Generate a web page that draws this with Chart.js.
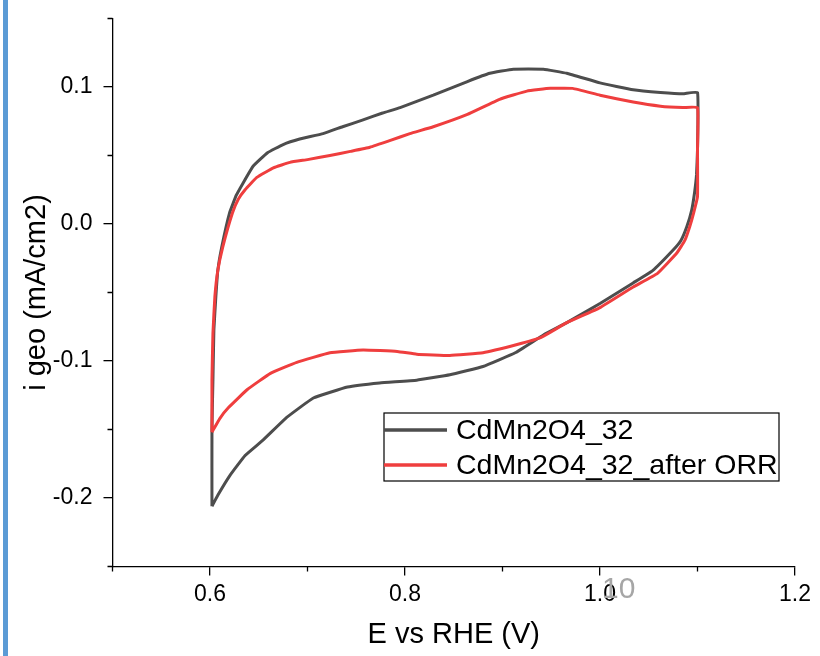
<!DOCTYPE html>
<html>
<head>
<meta charset="utf-8">
<script src="https://cdn.jsdelivr.net/npm/chart.js@4.4.1/dist/chart.umd.min.js"></script>
<style>
  html, body { margin: 0; padding: 0; background: #fff; }
  #wrap { position: relative; width: 820px; height: 656px; overflow: hidden; }
  #bar { position: absolute; left: 3px; top: 0; width: 5px; height: 656px; background: #5b9bd5; }
  canvas { position: absolute; left: 0; top: 0; }
  #pageNo { position: absolute; left: 602px; top: 573px; font: 30px/30px "Liberation Sans", Arial, sans-serif; color: #a6a6a6; }
</style>
</head>
<body>
<div id="wrap">
  <div id="bar"></div>
  <canvas id="cv" width="820" height="656"></canvas>
  <div id="pageNo">10</div>
</div>
<script>
// series labels
const seriesLabels = ['CdMn2O4_32', 'CdMn2O4_32_after ORR'];

// CdMn2O4_32 loop (E in V, i in mA/cm2)
const blackE = [0.602,0.602,0.603,0.604,0.606,0.608,0.612,0.620,0.627,0.634,0.644,0.659,0.675,0.692,0.716,0.736,0.757,0.777,0.795,0.829,0.864,0.887,0.911,0.942,0.966,1.000,1.034,1.062,1.085,1.100,1.100,1.099,1.097,1.094,1.089,1.083,1.075,1.054,1.034,1.000,0.966,0.942,0.913,0.880,0.846,0.812,0.774,0.741,0.706,0.679,0.654,0.636,0.620,0.608,0.602];
const blackI = [-0.206,-0.150,-0.114,-0.077,-0.053,-0.034,-0.017,0.008,0.021,0.030,0.042,0.052,0.058,0.062,0.066,0.071,0.076,0.081,0.085,0.094,0.104,0.110,0.113,0.113,0.110,0.103,0.098,0.096,0.095,0.096,0.054,0.036,0.023,0.010,-0.002,-0.012,-0.019,-0.034,-0.043,-0.058,-0.072,-0.081,-0.094,-0.104,-0.110,-0.114,-0.116,-0.119,-0.127,-0.141,-0.158,-0.169,-0.184,-0.198,-0.206];

// CdMn2O4_32 after ORR loop
const redE = [0.602,0.602,0.603,0.605,0.608,0.613,0.623,0.629,0.636,0.648,0.665,0.682,0.700,0.723,0.744,0.764,0.785,0.805,0.829,0.864,0.897,0.925,0.949,0.972,1.000,1.034,1.062,1.085,1.100,1.100,1.100,1.096,1.092,1.087,1.079,1.059,1.034,1.000,0.966,0.939,0.915,0.880,0.846,0.812,0.792,0.757,0.723,0.689,0.662,0.638,0.619,0.610,0.602];
const redI = [-0.152,-0.114,-0.080,-0.053,-0.034,-0.017,0.008,0.018,0.025,0.034,0.041,0.045,0.047,0.050,0.053,0.056,0.061,0.066,0.071,0.080,0.091,0.097,0.099,0.099,0.094,0.089,0.086,0.085,0.085,0.054,0.020,0.008,-0.002,-0.012,-0.021,-0.036,-0.046,-0.061,-0.072,-0.083,-0.088,-0.094,-0.096,-0.095,-0.093,-0.092,-0.094,-0.101,-0.109,-0.121,-0.134,-0.142,-0.152];

// axes
const xTicks = [0.6, 0.8, 1.0, 1.2];
const xMinor = [0.5, 0.7, 0.9, 1.1];
const yTicks = [-0.2, -0.1, 0.0, 0.1];
const yMinor = [-0.25, -0.15, -0.05, 0.05, 0.15];

const FONT = '"Liberation Sans", Arial, sans-serif';
Chart.defaults.font.family = FONT;
Chart.defaults.color = '#000';

const toPts = (xs, ys) => xs.map((x, i) => ({ x, y: ys[i] }));

// short minor ticks, drawn through the scales
const minorTicks = {
    id: 'minorTicks',
    afterDraw(chart) {
        const { ctx, scales: { x, y } } = chart;
        ctx.save();
        ctx.strokeStyle = '#000';
        ctx.lineWidth = 1.3;
        ctx.beginPath();
        xMinor.forEach(v => {
            const px = x.getPixelForValue(v);
            ctx.moveTo(px, x.top);
            ctx.lineTo(px, x.top + 5);
        });
        yMinor.forEach(v => {
            const py = y.getPixelForValue(v);
            ctx.moveTo(y.right, py);
            ctx.lineTo(y.right - 5, py);
        });
        ctx.stroke();
        ctx.restore();
    }
};

// boxed legend inside the plot
const boxLegend = {
    id: 'boxLegend',
    afterDraw(chart) {
        const { ctx, chartArea: a } = chart;
        const left = a.left + 271.5, top = a.top + 394.5, w = 395, h = 68;
        ctx.save();
        ctx.fillStyle = '#fff';
        ctx.fillRect(left, top, w, h);
        ctx.strokeStyle = '#000';
        ctx.lineWidth = 1.2;
        ctx.strokeRect(left, top, w, h);
        ctx.font = '28.5px ' + FONT;
        ctx.textBaseline = 'middle';
        chart.data.datasets.forEach((ds, i) => {
            const yy = top + 17 + i * 35;
            ctx.strokeStyle = ds.borderColor;
            ctx.lineWidth = 3.5;
            ctx.beginPath();
            ctx.moveTo(left, yy);
            ctx.lineTo(left + 63, yy);
            ctx.stroke();
            ctx.fillStyle = '#000';
            ctx.fillText(ds.label, left + 72, yy + 1);
        });
        ctx.restore();
    }
};

const gridOpts = {
    display: true,
    drawOnChartArea: false,
    drawTicks: true,
    tickLength: 9,
    tickColor: '#000',
    tickWidth: 1.3,
    lineWidth: 1.3
};

new Chart(document.getElementById('cv'), {
    type: 'scatter',
    data: {
        datasets: [{
            label: seriesLabels[0],
            data: toPts(blackE, blackI),
            borderColor: '#4d4d4d',
            order: 1
        }, {
            label: seriesLabels[1],
            data: toPts(redE, redI),
            borderColor: '#ef3e3e',
            order: 0
        }]
    },
    options: {
        responsive: false,
        animation: false,
        devicePixelRatio: 1,
        showLine: true,
        elements: {
            point: { radius: 0, hoverRadius: 0 },
            line: { borderWidth: 3, tension: 0.1, fill: false, borderJoinStyle: 'round' }
        },
        layout: { autoPadding: false, padding: { left: 0, right: 25, top: 18.5, bottom: 0 } },
        plugins: {
            legend: { display: false },
            tooltip: { enabled: false }
        },
        scales: {
            x: {
                type: 'linear',
                min: 0.5,
                max: 1.2,
                afterBuildTicks: s => { s.ticks = xTicks.map(v => ({ value: v })); },
                afterFit: s => { s.height = 89.5; s.paddingLeft = 0; s.paddingRight = 0; },
                grid: gridOpts,
                border: { display: true, color: '#000', width: 1.3 },
                ticks: {
                    callback: v => Number(v).toFixed(1),
                    font: { size: 23 },
                    color: '#000',
                    padding: 5,
                    maxRotation: 0,
                    autoSkip: false
                },
                title: {
                    display: true,
                    text: 'E vs RHE (V)',
                    font: { size: 29 },
                    color: '#000',
                    padding: { top: 0, bottom: 4 }
                }
            },
            y: {
                type: 'linear',
                min: -0.25,
                max: 0.15,
                afterBuildTicks: s => { s.ticks = yTicks.map(v => ({ value: v })); },
                afterFit: s => { s.width = 112.5; s.paddingTop = 0; s.paddingBottom = 0; },
                grid: gridOpts,
                border: { display: true, color: '#000', width: 1.3 },
                ticks: {
                    callback: v => Number(v).toFixed(1),
                    font: { size: 23 },
                    color: '#000',
                    padding: 11,
                    autoSkip: false
                },
                title: {
                    display: true,
                    text: 'i geo (mA/cm2)',
                    font: { size: 29 },
                    color: '#000',
                    padding: { top: 20, bottom: 0 }
                }
            }
        }
    },
    plugins: [minorTicks, boxLegend]
});
</script>
</body>
</html>
